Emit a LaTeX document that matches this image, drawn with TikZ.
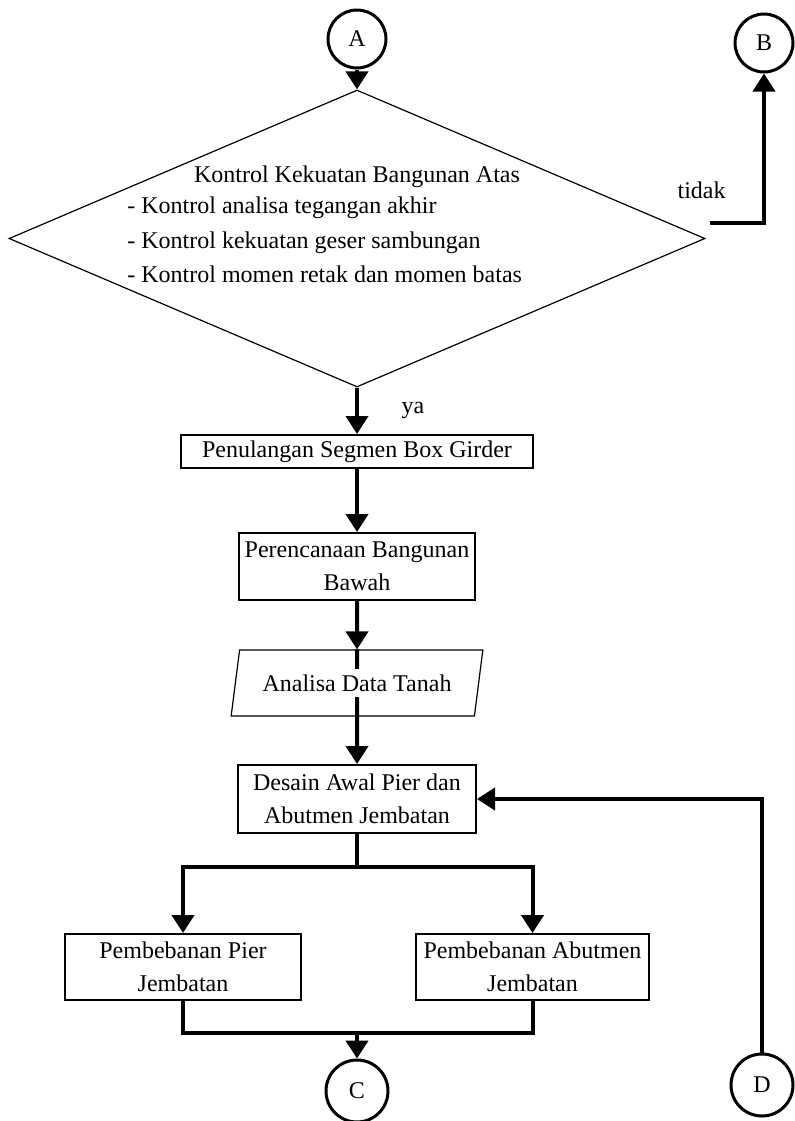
\documentclass[tikz,border=0pt]{standalone}
\usepackage{fontspec}
\setmainfont{Liberation Serif}
\usetikzlibrary{arrows.meta,shapes.geometric,calc}
\pgfdeclarelayer{back}
\pgfsetlayers{back,main}

\begin{document}
\begin{tikzpicture}[x=0.5pt,y=-0.5pt,>={Triangle[width=11pt,length=9pt]},
  font=\fontsize{12}{16.5}\selectfont,
  kotak/.style={draw,line width=1pt,align=center,inner sep=0pt},
  konektor/.style={draw,circle,line width=1.5pt,minimum size=29pt,inner sep=0pt},
  isi/.style={anchor=base west,inner sep=0pt},
  alur/.style={->,line width=2pt},
  garis/.style={line width=2pt}]
\useasboundingbox (0,0) rectangle (795,1121);

\node[konektor] (A) at (357,39) {A};
\node[konektor] (B) at (764,43) {B};
\node[draw,diamond,line width=0.6pt,minimum width=348pt,minimum height=148.5pt,inner sep=0pt] (cek) at (357,238.5) {};
\node[anchor=base,inner sep=0pt] (cekjudul) at (357,182) {Kontrol Kekuatan Bangunan Atas};
\node[isi] (cek1) at (127,213) {- Kontrol analisa tegangan akhir};
\node[isi] (cek2) at (127,248) {- Kontrol kekuatan geser sambungan};
\node[isi] (cek3) at (127,282) {- Kontrol momen retak dan momen batas};
\node[kotak,minimum width=176pt,minimum height=16.5pt] (tulangan) at (357,451.5) {Penulangan Segmen Box Girder};
\node[kotak,minimum width=118pt,minimum height=33.5pt] (bawah) at (357,566.5) {Perencanaan Bangunan\\Bawah};
\node[draw,trapezium,trapezium left angle=76,trapezium right angle=104,trapezium stretches=true,line width=0.6pt,minimum width=126pt,minimum height=33pt,inner sep=0pt] (tanah) at (357,683) {\colorbox{white}{Analisa Data Tanah}};
\node[kotak,minimum width=119pt,minimum height=34pt] (desain) at (357,799) {Desain Awal Pier dan\\Abutmen Jembatan};
\node[kotak,minimum width=118pt,minimum height=33pt] (pier) at (183,967) {Pembebanan Pier\\Jembatan};
\node[kotak,minimum width=116.5pt,minimum height=33pt] (abut) at (532.5,967) {Pembebanan Abutmen\\Jembatan};
\node[konektor,minimum size=31pt] (C) at (357,1091) {C};
\node[konektor,minimum size=31pt] (D) at (762,1085) {D};
\coordinate (pisah) at (357,867);
\coordinate (gabung) at (357,1033);

% alur utama
\draw[alur] (A) -- (cek);
\draw[alur] ($(cek.east)+(4,-16)$) node[anchor=base,shift={(-4pt,12pt)}] {tidak} -| (B);
\draw[alur] (cek) -- node[right=18pt] {ya} (tulangan);
\draw[alur] (tulangan) -- (bawah);
\draw[alur] (bawah) -- (tanah);
\begin{pgfonlayer}{back}
\draw[alur] (tanah.north) -- (desain);
\end{pgfonlayer}
\draw[alur] (D) |- (desain);
% percabangan pier dan abutmen
\draw[garis] (desain) -- (pisah);
\draw[alur] (pisah) -| (pier);
\draw[alur] (pisah) -| (abut);
\draw[garis] (pier) |- (gabung) -| (abut);
\draw[alur] (gabung) -- (C);
\end{tikzpicture}
\end{document}
